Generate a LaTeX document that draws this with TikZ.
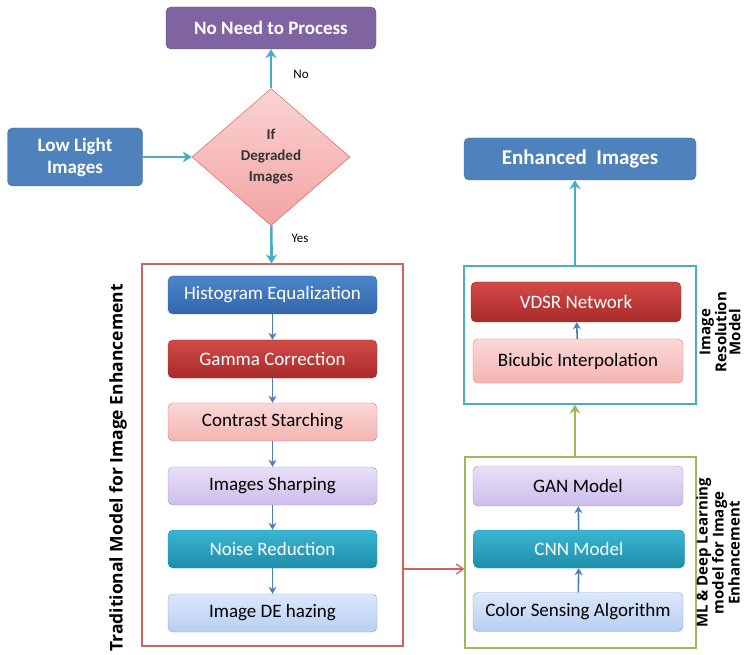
\documentclass[tikz,border=0pt]{standalone}
\usepackage{fontspec}
\setmainfont{Carlito}
\newfontfamily\sidefont{Open Sans}
\usetikzlibrary{positioning, arrows.meta, shapes.geometric}
\definecolor{hblue}{HTML}{4F81BD}
\definecolor{hblueb}{HTML}{3B6A9E}
\definecolor{hpurple}{HTML}{8064A2}
\definecolor{flowteal}{HTML}{4BACC6}
\definecolor{stepblue}{HTML}{4A7EBF}
\definecolor{redline}{HTML}{D06262}
\definecolor{greenline}{HTML}{9BBB59}
\definecolor{darkred}{HTML}{A82B2B}
\definecolor{blueTop}{HTML}{4A86CC}
\definecolor{blueBot}{HTML}{3465A8}
\definecolor{redTop}{HTML}{D24A47}
\definecolor{redBot}{HTML}{A82B2B}
\definecolor{pinkLine}{HTML}{E07B7B}
\definecolor{pinkTop}{HTML}{FCD8D8}
\definecolor{pinkBot}{HTML}{F5B3B3}
\definecolor{lavLine}{HTML}{A896CF}
\definecolor{lavTop}{HTML}{E8E0F7}
\definecolor{lavBot}{HTML}{CDBDEA}
\definecolor{tealLine}{HTML}{1E8FAA}
\definecolor{tealTop}{HTML}{3AB5D3}
\definecolor{tealBot}{HTML}{1E8EA9}
\definecolor{iceLine}{HTML}{86A9DB}
\definecolor{iceTop}{HTML}{DCE8FB}
\definecolor{iceBot}{HTML}{B7CEF1}
\definecolor{decLine}{HTML}{D9534F}
\definecolor{decTop}{HTML}{FAD3D3}
\definecolor{decBot}{HTML}{F3A3A3}

\begin{document}
\begin{tikzpicture}[x=1pt, y=-1pt,
  hdr/.style={draw=hblueb, fill=hblue, rounded corners=5pt, text=white, align=center,
              font=\fontsize{19}{22}\selectfont\bfseries, inner sep=2pt},
  stage/.style={draw, rounded corners=5pt, minimum width=209pt, minimum height=38pt,
                align=center, font=\fontsize{19}{21}\selectfont, inner sep=2pt},
  sblue/.style={stage, draw=blueBot, top color=blueTop, bottom color=blueBot, text=white},
  sred/.style={stage, draw=darkred, top color=redTop, bottom color=redBot, text=white},
  spink/.style={stage, draw=pinkLine, top color=pinkTop, bottom color=pinkBot},
  slav/.style={stage, draw=lavLine, top color=lavTop, bottom color=lavBot},
  steal/.style={stage, draw=tealLine, top color=tealTop, bottom color=tealBot, text=white},
  sice/.style={stage, draw=iceLine, top color=iceTop, bottom color=iceBot},
  dec/.style={draw=decLine, diamond, aspect=1.15, minimum width=158pt, minimum height=137pt,
              inner sep=0pt, top color=decTop, bottom color=decBot, align=center,
              font=\fontsize{15}{21}\selectfont\bfseries, text=black!80},
  frame/.style={draw, line width=1.2pt, inner sep=0pt},
  side/.style={rotate=90, align=center, font=\sidefont\fontsize{15}{14}\selectfont\bfseries},
  flow/.style={-{Stealth[length=9pt, width=11pt]}, line width=2.6pt, flowteal},
  link/.style={-{Stealth[length=7pt, width=8pt]}, line width=1.6pt, stepblue},
  note/.style={font=\fontsize{13}{15}\selectfont},
]
  \useasboundingbox (0,0) rectangle (745,655);

  % input and decision
  \node[hdr, minimum width=210pt, minimum height=42pt, draw=hpurple!80!black, fill=hpurple] (skip) at (271,28) {No Need to Process};
  \node[hdr, minimum width=135pt, minimum height=58pt] (low) at (75,157) {Low Light\\Images};
  \node[dec] (cond) at (271,157) {If\\Degraded\\Images};
  \draw[flow] (low) -- (cond);
  \draw[flow] (cond) -- (skip);
  \node[note] (no) at (301,74) {No};

  % traditional model
  \node[frame, draw=redline, minimum width=261pt, minimum height=382pt] (trad) at (272.5,455) {};
  \draw[flow] (cond) -- (trad);
  \node[note] (yes) at (300,238) {Yes};
  \node[sblue] (hist) at (272.5,295) {Histogram Equalization};
  \node[sred]  (gam)  at (272.5,359) {Gamma Correction};
  \node[spink] (con)  at (272.5,422) {Contrast Starching};
  \node[slav]  (shp)  at (272.5,486) {Images Sharping};
  \node[steal] (noi)  at (272.5,549) {Noise Reduction};
  \node[sice]  (haz)  at (272.5,613) {Image DE hazing};
  \foreach \a/\b in {hist/gam, gam/con, con/shp, shp/noi, noi/haz}
    \draw[link] (\a) -- (\b);
  \node[side, font=\sidefont\fontsize{17.5}{20}\selectfont\bfseries] (tradlbl) at (118,468) {Traditional Model for Image Enhancement};

  % ML and deep learning model
  \node[frame, draw=greenline, minimum width=231pt, minimum height=191pt] (ml) at (580.5,552.5) {};
  \node[slav, minimum width=210pt, minimum height=40pt]  (gan) at (578,486) {GAN Model};
  \node[steal, minimum width=211pt] (cnn) at (579,549) {CNN Model};
  \node[sice, minimum width=210pt, minimum height=39pt]  (csa) at (578,612) {Color Sensing Algorithm};
  \draw[link] (csa) -- (cnn);
  \draw[link] (cnn) -- (gan);
  \node[side] (mllbl) at (718,553) {ML \& Deep Learning\\model for Image\\Enhancement};
  \coordinate (tap) at (403,569);
  \draw[-{Straight Barb[length=7pt, width=10pt]}, line width=1.3pt, redline] (trad.east |- tap) -- (ml.west |- tap);

  % resolution model
  \node[frame, draw=flowteal, minimum width=232pt, minimum height=138pt] (res) at (580,335) {};
  \node[sred, minimum width=210pt, minimum height=40pt]  (vdsr) at (576,302) {VDSR Network};
  \node[spink, minimum width=210pt, minimum height=44pt] (bic)  at (578,361) {Bicubic Interpolation};
  \draw[link] (bic) -- (vdsr);
  \node[side] (reslbl) at (720,332) {Image\\Resolution\\Model};
  \draw[flow, greenline] (ml.north -| 575,0) -- (res.south -| 575,0);

  % output
  \node[hdr, minimum width=232pt, minimum height=42pt, font=\fontsize{21}{24}\selectfont\bfseries] (out) at (580,159) {Enhanced~ Images};
  \draw[flow] (res.north -| 575,0) -- (out.south -| 575,0);
\end{tikzpicture}
\end{document}
